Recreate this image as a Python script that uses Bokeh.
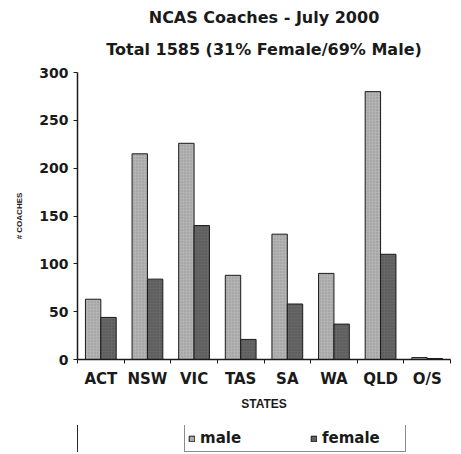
from bokeh.plotting import figure
from bokeh.layouts import column
from bokeh.models import (ColumnDataSource, FixedTicker, Legend, LegendItem, Title)
from bokeh.embed import file_html
from bokeh.resources import INLINE

states = ["ACT", "NSW", "VIC", "TAS", "SA", "WA", "QLD", "O/S"]
male = [63, 215, 226, 88, 131, 90, 280, 2]
female = [44, 84, 140, 21, 58, 37, 110, 1]
y_ticks = [0, 50, 100, 150, 200, 250, 300]
title_lines = ["NCAS Coaches - July 2000", "Total 1585 (31% Female/69% Male)"]

centers = [i + 0.5 for i in range(len(states))]
off = 0.165
bw = 0.33
src = ColumnDataSource(dict(
    xm=[c - off for c in centers],
    xf=[c + off for c in centers],
    male=male, female=female, state=states))

FONT = "DejaVu Sans"
SMALL = "Liberation Sans"
INK = "#1a1a1a"
MALE_STYLE = dict(fill_color="#b3b3b3", line_color=INK, line_width=1,
                  hatch_pattern="dot", hatch_color="#808080", hatch_scale=3, hatch_alpha=0.6)
FEMALE_STYLE = dict(fill_color="#666666", line_color=INK, line_width=1,
                    hatch_pattern="dot", hatch_color="#404040", hatch_scale=3, hatch_alpha=0.6)

p = figure(frame_width=373, frame_height=287, x_range=(0, len(states)), y_range=(0, 300),
           output_backend="svg", toolbar_location=None,
           min_border_left=77, min_border_right=2, min_border_top=72,
           min_border_bottom=66)
p.background_fill_color = "white"
p.border_fill_color = "white"
p.outline_line_color = None

p.vbar(x="xm", top="male", width=bw, source=src, **MALE_STYLE)
p.vbar(x="xf", top="female", width=bw, source=src, **FEMALE_STYLE)

p.xgrid.visible = False
p.ygrid.ticker = FixedTicker(ticks=[300])
p.ygrid.grid_line_color = "#8c8c8c"
p.ygrid.grid_line_width = 1

xa = p.xaxis[0]
xa.ticker = FixedTicker(ticks=centers, minor_ticks=list(range(len(states) + 1)))
xa.major_label_overrides = {c: s for c, s in zip(centers, states)}
xa.major_tick_out = 0
xa.major_tick_in = 0
xa.minor_tick_out = 4
xa.minor_tick_in = 0
xa.minor_tick_line_color = INK
xa.axis_line_color = INK
xa.axis_line_width = 1.5
xa.major_label_text_font = FONT
xa.major_label_text_font_style = "bold"
xa.major_label_text_font_size = "15px"
xa.major_label_text_color = INK
xa.major_label_standoff = 6
xa.axis_label = "STATES"
xa.axis_label_text_font = SMALL
xa.axis_label_text_font_style = "bold"
xa.axis_label_text_font_size = "12px"
xa.axis_label_text_color = INK
xa.axis_label_standoff = 6

ya = p.yaxis[0]
ya.ticker = FixedTicker(ticks=y_ticks)
ya.minor_tick_line_color = None
ya.major_tick_out = 4
ya.major_tick_in = 0
ya.major_tick_line_color = INK
ya.axis_line_color = INK
ya.axis_line_width = 1.5
ya.major_label_text_font = FONT
ya.major_label_text_font_style = "bold"
ya.major_label_text_font_size = "14px"
ya.major_label_text_color = INK
ya.major_label_standoff = 5
ya.axis_label = "# COACHES"
ya.axis_label_text_font = SMALL
ya.axis_label_text_font_style = "bold"
ya.axis_label_text_font_size = "8px"
ya.axis_label_text_color = INK
ya.axis_label_standoff = 12

t2 = Title(text=title_lines[1], align="center",
           text_font=FONT, text_font_style="bold", text_font_size="16px",
           text_color=INK, standoff=28)
t1 = Title(text=title_lines[0], align="center",
           text_font=FONT, text_font_style="bold", text_font_size="16px",
           text_color=INK, standoff=-6)
p.title = None
p.add_layout(t2, "above")
p.add_layout(t1, "above")

# legend strip below the chart (bars here fall outside its range, only the legend shows)
pleg = figure(width=452, height=27, x_range=(100, 101), y_range=(0, 1),
              output_backend="svg", toolbar_location=None,
              x_axis_location=None, y_axis_location=None,
              min_border=0, min_border_left=0, min_border_right=0,
              min_border_top=0, min_border_bottom=0)
pleg.outline_line_color = None
pleg.background_fill_color = "white"
pleg.border_fill_color = "white"
pleg.grid.visible = False
lm = pleg.vbar(x="xm", top="male", width=bw, source=src, **MALE_STYLE)
lf = pleg.vbar(x="xf", top="female", width=bw, source=src, **FEMALE_STYLE)

legend = Legend(items=[LegendItem(label="male", renderers=[lm]),
                       LegendItem(label="female", renderers=[lf])],
                orientation="horizontal", location=(107, 0),
                border_line_color=INK, border_line_width=1.5,
                background_fill_color="white",
                label_text_font=FONT, label_text_font_style="bold",
                label_text_font_size="15px", label_text_color=INK,
                glyph_width=7, glyph_height=7, label_standoff=5,
                label_height=20, label_width=80, spacing=30, padding=3, margin=0)
pleg.add_layout(legend, "center")

open("out.html", "w").write(file_html(column(p, pleg), INLINE))
